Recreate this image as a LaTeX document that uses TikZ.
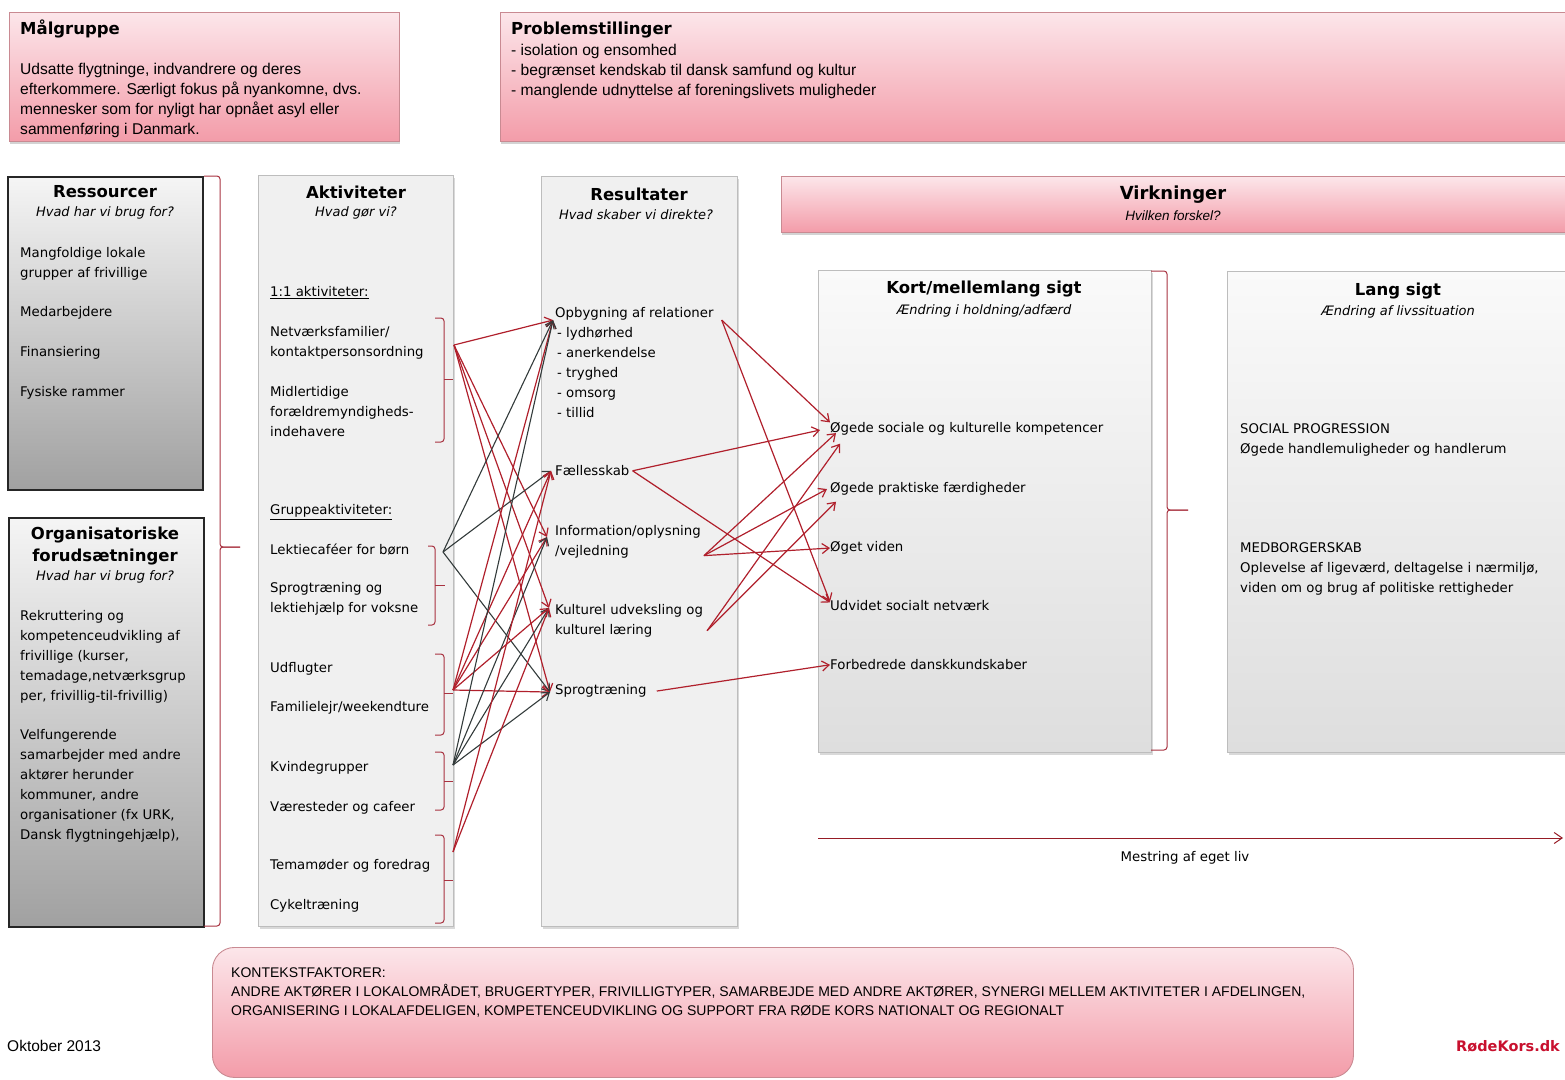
\documentclass[tikz,border=0pt]{standalone}
\usepackage{fontspec}
\setmainfont{DejaVu Sans}
\newfontfamily\tahomafont{Liberation Sans}
\usetikzlibrary{calc,arrows.meta,shadows}

\definecolor{pinktop}{HTML}{FCE6EA}
\definecolor{pinkbot}{HTML}{F39CA9}
\definecolor{pinkline}{HTML}{C98A92}
\definecolor{rkred}{HTML}{B0202C}
\definecolor{rkdark}{HTML}{333B3B}
\definecolor{brkred}{HTML}{A83240}
\definecolor{colfill}{HTML}{F0F0F0}
\definecolor{colline}{HTML}{BDBDBD}
\definecolor{logored}{HTML}{C8102E}

\tikzset{
  box/.style={anchor=north west, inner sep=0pt},
  pinkbox/.style={box, draw=pinkline, line width=0.8pt, top color=pinktop, bottom color=pinkbot,
    drop shadow={shadow xshift=1pt, shadow yshift=-2.5pt, opacity=0.35}},
  greybox/.style={box, draw=black!85, line width=1.8pt, top color=black!4, bottom color=black!37},
  colbox/.style={box, draw=colline, line width=0.9pt, fill=colfill,
    drop shadow={shadow xshift=1.5pt, shadow yshift=-2.5pt, opacity=0.3}},
  effbox/.style={box, draw=colline, line width=0.9pt, top color=black!2, bottom color=black!13,
    drop shadow={shadow xshift=1.5pt, shadow yshift=-2.5pt, opacity=0.3}},
  ctxbox/.style={box, draw=pinkline, line width=0.9pt, rounded corners=22pt, top color=pinktop, bottom color=pinkbot},
  headtxt/.style={inner sep=0pt, font=\fontsize{16.5}{22}\selectfont\bfseries},
  subtxt/.style={inner sep=0pt, font=\fontsize{13}{20}\selectfont\itshape},
  itemtxt/.style={inner sep=0pt, anchor=mid west, yshift=-3pt, font=\fontsize{13.3}{20}\selectfont},
  blocktxt/.style={inner sep=0pt, anchor=north west, align=left, font=\fontsize{13.3}{20}\selectfont},
  thintxt/.style={inner sep=0pt, anchor=north west, align=left, font=\tahomafont\fontsize{15.6}{20}\selectfont},
  redarr/.style={draw=rkred, line width=1.2pt, -{Straight Barb[length=7pt,width=10pt]}},
  darkarr/.style={draw=rkdark, line width=1.1pt, -{Straight Barb[length=7pt,width=10pt]}},
  brk/.style={draw=brkred, line width=1pt, rounded corners=3pt}
}

\begin{document}
\begin{tikzpicture}[x=1pt,y=-1pt]
  \useasboundingbox (0,0) rectangle (1565,1079);
  \clip (0,0) rectangle (1565,1079);

  % top boxes
  \node[pinkbox, minimum width=390, minimum height=129] (maalbox) at (9,12) {};
  \node[headtxt, anchor=mid west] (maal) at (20,32) {Målgruppe};
  \node[thintxt] (maaltxt) at (20,63) {Udsatte flygtninge, indvandrere og deres\\efterkommere. Særligt fokus på nyankomne, dvs.\\mennesker som for nyligt har opnået asyl eller\\sammenføring i Danmark.};

  \node[pinkbox, minimum width=1080, minimum height=129] (probbox) at (500,12) {};
  \node[headtxt, anchor=mid west] (prob) at (511,32) {Problemstillinger};
  \node[thintxt] (probtxt) at (511,44) {- isolation og ensomhed\\- begrænset kendskab til dansk samfund og kultur\\- manglende udnyttelse af foreningslivets muligheder};

  % ressourcer
  \node[greybox, minimum width=195, minimum height=313] (resbox) at (7,176) {};
  \node[headtxt] (res) at (105,192) {Ressourcer};
  \node[subtxt] (ressub) at (105,213) {Hvad har vi brug for?};
  \node[blocktxt] (res1) at (20,247) {Mangfoldige lokale\\grupper af frivillige};
  \node[itemtxt] (res2) at (20,311) {Medarbejdere};
  \node[itemtxt] (res3) at (20,351) {Finansiering};
  \node[itemtxt] (res4) at (20,391) {Fysiske rammer};

  \node[greybox, minimum width=195, minimum height=409] (orgbox) at (8,517) {};
  \node[headtxt, anchor=north, align=center] (org) at (105,527) {Organisatoriske\\forudsætninger};
  \node[subtxt] (orgsub) at (105,577) {Hvad har vi brug for?};
  \node[blocktxt] (org1) at (20,610) {Rekruttering og\\kompetenceudvikling af\\frivillige (kurser,\\temadage,netværksgrup\\per, frivillig-til-frivillig)};
  \node[blocktxt] (org2) at (20,729) {Velfungerende\\samarbejder med andre\\aktører herunder\\kommuner, andre\\organisationer (fx URK,\\Dansk flygtningehjælp),};

  \draw[brk] (204,176) -- (220,176) -- (220,547) -- (240,547);
  \draw[brk] (240,547) -- (220,547) -- (220,926) -- (204,926);

  % aktiviteter
  \node[colbox, minimum width=195, minimum height=751] (aktbox) at (258,175) {};
  \node[headtxt] (akt) at (356,192) {Aktiviteter};
  \node[subtxt] (aktsub) at (356,213) {Hvad gør vi?};
  \node[itemtxt] (akt11) at (270,291) {\underline{1:1 aktiviteter:}};
  \node[blocktxt] (netv) at (270,326) {Netværksfamilier/\\kontaktpersonsordning};
  \node[blocktxt] (midl) at (270,386) {Midlertidige\\forældremyndigheds-\\indehavere};
  \node[itemtxt] (aktgr) at (270,509) {\underline{Gruppeaktiviteter:}};
  \node[itemtxt] (lekt) at (270,549) {Lektiecaféer for børn};
  \node[blocktxt] (sprogv) at (270,582) {Sprogtræning og\\lektiehjælp for voksne};
  \node[itemtxt] (udfl) at (270,667) {Udflugter};
  \node[itemtxt] (famil) at (270,706) {Familielejr/weekendture};
  \node[itemtxt] (kvind) at (270,766) {Kvindegrupper};
  \node[itemtxt] (vaer) at (270,806) {Væresteder og cafeer};
  \node[itemtxt] (tema) at (270,864) {Temamøder og foredrag};
  \node[itemtxt] (cykel) at (270,904) {Cykeltræning};

  \draw[brk] (435,318) -- (444,318) -- (444,442) -- (435,442);
  \draw[brk] (444,379) -- (453,379);
  \draw[brk] (428,546) -- (435,546) -- (435,625) -- (428,625);
  \draw[brk] (435,585) -- (445,585);
  \draw[brk] (435,654) -- (444,654) -- (444,735) -- (435,735);
  \draw[brk] (444,693) -- (453,693);
  \draw[brk] (435,752) -- (444,752) -- (444,810) -- (435,810);
  \draw[brk] (444,781) -- (453,781);
  \draw[brk] (435,835) -- (444,835) -- (444,923) -- (435,923);
  \draw[brk] (444,880) -- (453,880);

  \coordinate (s1) at (454,345);
  \coordinate (s2) at (443,552);
  \coordinate (s3) at (453,690);
  \coordinate (s4) at (453,765);
  \coordinate (s5) at (453,852);

  % resultater
  \node[colbox, minimum width=196, minimum height=750] (rslbox) at (541,176) {};
  \node[headtxt] (rsl) at (639,194) {Resultater};
  \node[subtxt] (rslsub) at (636,215) {Hvad skaber vi direkte?};
  \node[itemtxt] (opb) at (555,312) {Opbygning af relationer};
  \node[blocktxt] (opbl) at (557,327) {- lydhørhed\\- anerkendelse\\- tryghed\\- omsorg\\- tillid};
  \node[itemtxt] (fael) at (555,470) {Fællesskab};
  \node[blocktxt] (info) at (555,525) {Information/oplysning\\/vejledning};
  \node[blocktxt] (kult) at (555,604) {Kulturel udveksling og\\kulturel læring};
  \node[itemtxt] (sprog) at (555,689) {Sprogtræning};

  \coordinate (t-opb) at ($(opb.west)+(-2,6)$);
  \coordinate (t-fael) at ($(fael.west)+(-4,0)$);
  \coordinate (t-info) at ($(info.north west)+(-8,12)$);
  \coordinate (t-kult) at ($(kult.north west)+(-6,4)$);
  \coordinate (t-sprog) at ($(sprog.west)+(-5,1)$);

  % aktiviteter -> resultater
  \draw[redarr] (s1) -- (t-opb);
  \draw[redarr] (s1) -- (t-info);
  \draw[redarr] (s1) -- (t-kult);
  \draw[redarr] (s1) -- (t-sprog);
  \draw[darkarr] (s2) -- (t-opb);
  \draw[darkarr] (s2) -- (t-fael);
  \draw[darkarr] (s2) -- (t-sprog);
  \draw[redarr] (s3) -- (t-opb);
  \draw[redarr] (s3) -- (t-fael);
  \draw[redarr] (s3) -- (t-info);
  \draw[redarr] (s3) -- (t-kult);
  \draw[redarr] (s3) -- (t-sprog);
  \draw[darkarr] (s4) -- (t-opb);
  \draw[darkarr] (s4) -- (t-info);
  \draw[darkarr] (s4) -- (t-kult);
  \draw[darkarr] (s4) -- (t-sprog);
  \draw[redarr] (s5) -- (t-fael);
  \draw[redarr] (s5) -- (t-kult);

  % virkninger
  \node[pinkbox, minimum width=800, minimum height=56] (virkbox) at (781,176) {};
  \node[headtxt, font=\fontsize{18}{22}\selectfont\bfseries] (virk) at (1173,195) {Virkninger};
  \node[subtxt, font=\tahomafont\fontsize{13.5}{20}\selectfont\itshape] (virksub) at (1173,216) {Hvilken forskel?};

  \node[effbox, minimum width=333, minimum height=482] (kortbox) at (818,270) {};
  \node[headtxt] (kort) at (984,289) {Kort/mellemlang sigt};
  \node[subtxt] (kortsub) at (984,311) {Ændring i holdning/adfærd};
  \node[itemtxt] (soc) at (830,427) {Øgede sociale og kulturelle kompetencer};
  \node[itemtxt] (prak) at (830,487) {Øgede praktiske færdigheder};
  \node[itemtxt] (viden) at (830,546) {Øget viden};
  \node[itemtxt] (udv) at (830,605) {Udvidet socialt netværk};
  \node[itemtxt] (dansk) at (830,664) {Forbedrede danskkundskaber};

  \draw[brk] (1151,271) -- (1167,271) -- (1167,510) -- (1188,510);
  \draw[brk] (1188,510) -- (1167,510) -- (1167,750) -- (1151,750);

  \node[effbox, minimum width=350, minimum height=481] (langbox) at (1227,271) {};
  \node[headtxt] (lang) at (1398,291) {Lang sigt};
  \node[subtxt] (langsub) at (1398,312) {Ændring af livssituation};
  \node[blocktxt] (socprog) at (1240,423) {SOCIAL PROGRESSION\\Øgede handlemuligheder og handlerum};
  \node[blocktxt] (medb) at (1240,542) {MEDBORGERSKAB\\Oplevelse af ligeværd, deltagelse i nærmiljø,\\viden om og brug af politiske rettigheder};

  % resultater -> virkninger
  \draw[redarr] ($(opb.east)+(8,6)$) -- (soc.north west);
  \draw[redarr] ($(opb.east)+(8,6)$) -- ($(udv.west)+(0,-4)$);
  \draw[redarr] ($(fael.east)+(3,0)$) -- ($(soc.west)+(-10,1)$);
  \draw[redarr] ($(fael.east)+(3,0)$) -- ($(udv.north west)+(0,2)$);
  \draw[redarr] ($(info.east)+(3,14)$) -- ($(soc.west)+(6,4)$);
  \draw[redarr] ($(info.east)+(3,14)$) -- ($(prak.west)+(-3,0)$);
  \draw[redarr] ($(info.east)+(3,14)$) -- (viden.west);
  \draw[redarr] ($(kult.east)+(4,10)$) -- ($(soc.south west)+(10,8)$);
  \draw[redarr] ($(kult.east)+(4,10)$) -- ($(prak.south west)+(6,6)$);
  \draw[redarr] ($(sprog.east)+(10,0)$) -- (dansk.west);

  % mestring
  \coordinate (mest-a) at (818,838);
  \coordinate (mest-b) at (1563,838);
  \draw[draw=rkred!85!black, line width=1pt, -{Straight Barb[length=8pt,width=11pt]}] (mest-a) -- (mest-b);
  \node[inner sep=0pt, font=\fontsize{13.3}{20}\selectfont] (mest) at (1185,858) {Mestring af eget liv};

  % kontekst
  \node[ctxbox, minimum width=1141, minimum height=130] (ctxbox) at (212,947) {};
  \node[thintxt, font=\tahomafont\fontsize{14}{19}\selectfont] (ctx) at (231,968) {KONTEKSTFAKTORER:\\ANDRE AKTØRER I LOKALOMRÅDET, BRUGERTYPER, FRIVILLIGTYPER, SAMARBEJDE MED ANDRE AKTØRER, SYNERGI MELLEM AKTIVITETER I AFDELINGEN,\\ORGANISERING I LOKALAFDELIGEN, KOMPETENCEUDVIKLING OG SUPPORT FRA RØDE KORS NATIONALT OG REGIONALT};

  \node[inner sep=0pt, anchor=mid west, font=\tahomafont\fontsize{15.5}{20}\selectfont] (dato) at (7,1049) {Oktober 2013};
  \node[inner sep=0pt, anchor=mid east, text=logored, font=\fontsize{14.5}{20}\selectfont\bfseries] (logo) at (1560,1049) {RødeKors.dk};
\end{tikzpicture}
\end{document}
